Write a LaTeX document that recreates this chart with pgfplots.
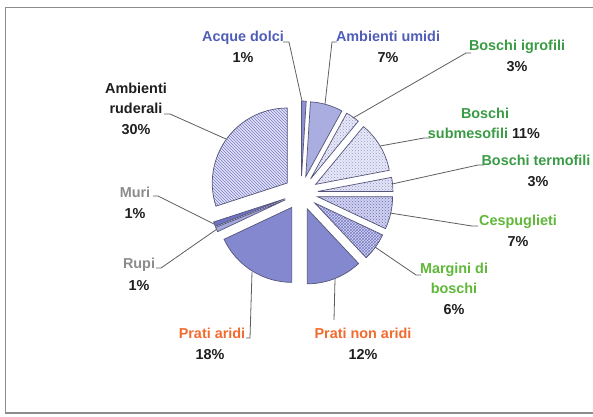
\documentclass[border=0pt]{standalone}
\usepackage{pgfplots}
\pgfplotsset{compat=1.18}
\usepackage{pgfplotstable}
\usepackage{fontspec}
\setmainfont{Liberation Sans}
\usetikzlibrary{patterns}

% habitat shares, clockwise from 12 o'clock
\pgfplotstableread{
pct
1
7
3
11
3
7
6
12
18
1
1
30
}\piedata

\definecolor{outl}{HTML}{55557A}
\definecolor{lead}{HTML}{5E5E5E}
\definecolor{tblue}{HTML}{4F5DB8}
\definecolor{tgreen}{HTML}{3A9B45}
\definecolor{tlgreen}{HTML}{5FB83A}
\definecolor{torange}{HTML}{F26B2E}
\definecolor{tgray}{HTML}{8C8C8C}
\definecolor{tblack}{HTML}{1E1E1E}

% pie geometry (1 unit = 1pt, y downwards)
\def\cx{301}\def\cy{193}\def\expl{17}
\pgfplotstablegetrowsof{\piedata}
\pgfmathtruncatemacro\Nlast{\pgfplotsretval-1}
\gdef\cumsum{0}
\foreach \i in {0,...,\Nlast}{%
  \pgfplotstablegetelem{\i}{pct}\of\piedata
  \let\v\pgfplotsretval
  \pgfmathsetmacro\a{\cumsum*3.6}%
  \pgfmathsetmacro\b{(\cumsum+\v)*3.6}%
  \pgfmathsetmacro\m{(\a+\b)/2}%
  \pgfmathsetmacro\px{\cx+\expl*sin(\m)}%
  \pgfmathsetmacro\py{\cy-\expl*cos(\m)}%
  \pgfmathsetmacro\A{90-\a}%
  \pgfmathsetmacro\B{90-\b}%
  \expandafter\xdef\csname px\i\endcsname{\px}%
  \expandafter\xdef\csname py\i\endcsname{\py}%
  \expandafter\xdef\csname A\i\endcsname{\A}%
  \expandafter\xdef\csname B\i\endcsname{\B}%
  \pgfmathsetmacro\c{\cumsum+\v}%
  \xdef\cumsum{\c}%
}

\tikzset{
  s0/.style={fill={rgb,255:red,140;green,144;blue,210}},
  s1/.style={fill={rgb,255:red,170;green,173;blue,224}},
  s2/.style={preaction={fill={rgb,255:red,232;green,233;blue,247}},pattern=crosshatch dots,pattern color={rgb,255:red,150;green,154;blue,210}},
  s3/.style={preaction={fill={rgb,255:red,232;green,233;blue,247}},pattern=crosshatch dots,pattern color={rgb,255:red,150;green,154;blue,210}},
  s4/.style={preaction={fill={rgb,255:red,228;green,229;blue,245}},pattern=crosshatch dots,pattern color={rgb,255:red,140;green,144;blue,206}},
  s5/.style={preaction={fill={rgb,255:red,208;green,210;blue,238}},pattern=crosshatch dots,pattern color={rgb,255:red,100;green,105;blue,190}},
  s6/.style={preaction={fill={rgb,255:red,214;green,216;blue,240}},pattern=crosshatch,pattern color={rgb,255:red,120;green,124;blue,200}},
  s7/.style={fill={rgb,255:red,132;green,137;blue,207}},
  s8/.style={fill={rgb,255:red,132;green,137;blue,207}},
  s9/.style={fill={rgb,255:red,165;green,168;blue,222}},
  s10/.style={fill={rgb,255:red,110;green,114;blue,192}},
  s11/.style={preaction={fill={rgb,255:red,226;green,227;blue,245}},pattern=north west lines,pattern color={rgb,255:red,120;green,124;blue,200}},
}
\newcommand\lblfont{\fontsize{14.4}{16}\selectfont\bfseries}
\newcommand\lbl[4]{\node[anchor=base,inner sep=0pt,text=#3,font=\lblfont] at (axis cs:#1,#2) {#4};}

\begin{document}
\begin{tikzpicture}
\begin{axis}[
    name=ax,
    scale only axis,
    width=593pt, height=416pt,
    xmin=0, xmax=593, ymin=0, ymax=416,
    y dir=reverse,
    hide axis,
    clip=false,
]
% frame
\draw[color={rgb,255:red,140;green,140;blue,140}, line width=1.1pt]
  (axis cs:600,7.5) -- (axis cs:5.5,7.5) -- (axis cs:5.5,413) -- (axis cs:600,413);

% slices
\pgfplotsinvokeforeach{0,...,11}{
  \draw[s#1, draw=outl, line width=0.7pt]
    (axis cs:\csname px#1\endcsname,\csname py#1\endcsname)
    -- ++(\csname A#1\endcsname:75pt)
    arc[start angle=\csname A#1\endcsname, end angle=\csname B#1\endcsname, radius=75pt]
    -- cycle;
}

% leader lines
\begin{scope}[lead, line width=0.8pt]
\draw (axis cs:283,42) -- (axis cs:289,42) -- (axis cs:302,101);
\draw (axis cs:337,42) -- (axis cs:332,42) -- (axis cs:325,104);
\draw (axis cs:471,53) -- (axis cs:466,53) -- (axis cs:353,118);
\draw (axis cs:430,138) -- (axis cs:424,138) -- (axis cs:380,146);
\draw (axis cs:484,165) -- (axis cs:478,165) -- (axis cs:392,184);
\draw (axis cs:478,226) -- (axis cs:472,226) -- (axis cs:390,213);
\draw (axis cs:421,275) -- (axis cs:416,275) -- (axis cs:375,247);
\draw (axis cs:335,279) -- (axis cs:334,320);
\draw (axis cs:252,272) -- (axis cs:250,338) -- (axis cs:246,338);
\draw (axis cs:156,268) -- (axis cs:161,268) -- (axis cs:217,229);
\draw (axis cs:153,196) -- (axis cs:158,196) -- (axis cs:214,224);
\draw (axis cs:164,114) -- (axis cs:170,114) -- (axis cs:226,139);
\end{scope}

% labels
\lbl{243}{41}{tblue}{Acque dolci}
\lbl{243}{62}{tblack}{1\%}
\lbl{388}{41}{tblue}{Ambienti umidi}
\lbl{388}{62}{tblack}{7\%}
\lbl{517}{50}{tgreen}{Boschi igrofili}
\lbl{517}{71}{tblack}{3\%}
\lbl{485}{118}{tgreen}{Boschi}
\lbl{484}{138}{tgreen}{submesofili \textcolor{tblack}{11\%}}
\lbl{536}{165}{tgreen}{Boschi termofili}
\lbl{538}{186}{tblack}{3\%}
\lbl{518}{225}{tlgreen}{Cespuglieti}
\lbl{518}{246}{tblack}{7\%}
\lbl{454}{273}{tlgreen}{Margini di}
\lbl{454}{293}{tlgreen}{boschi}
\lbl{454}{314}{tblack}{6\%}
\lbl{363}{338}{torange}{Prati non aridi}
\lbl{363}{359}{tblack}{12\%}
\lbl{212}{338}{torange}{Prati aridi}
\lbl{210}{359}{tblack}{18\%}
\lbl{139}{268}{tgray}{Rupi}
\lbl{139}{290}{tblack}{1\%}
\lbl{135}{197}{tgray}{Muri}
\lbl{135}{218}{tblack}{1\%}
\lbl{136}{93}{tblack}{Ambienti}
\lbl{136}{113}{tblack}{ruderali}
\lbl{136}{134}{tblack}{30\%}
\end{axis}
\pgfresetboundingbox
\path (ax.south west) rectangle (ax.north east);
\end{tikzpicture}
\end{document}
